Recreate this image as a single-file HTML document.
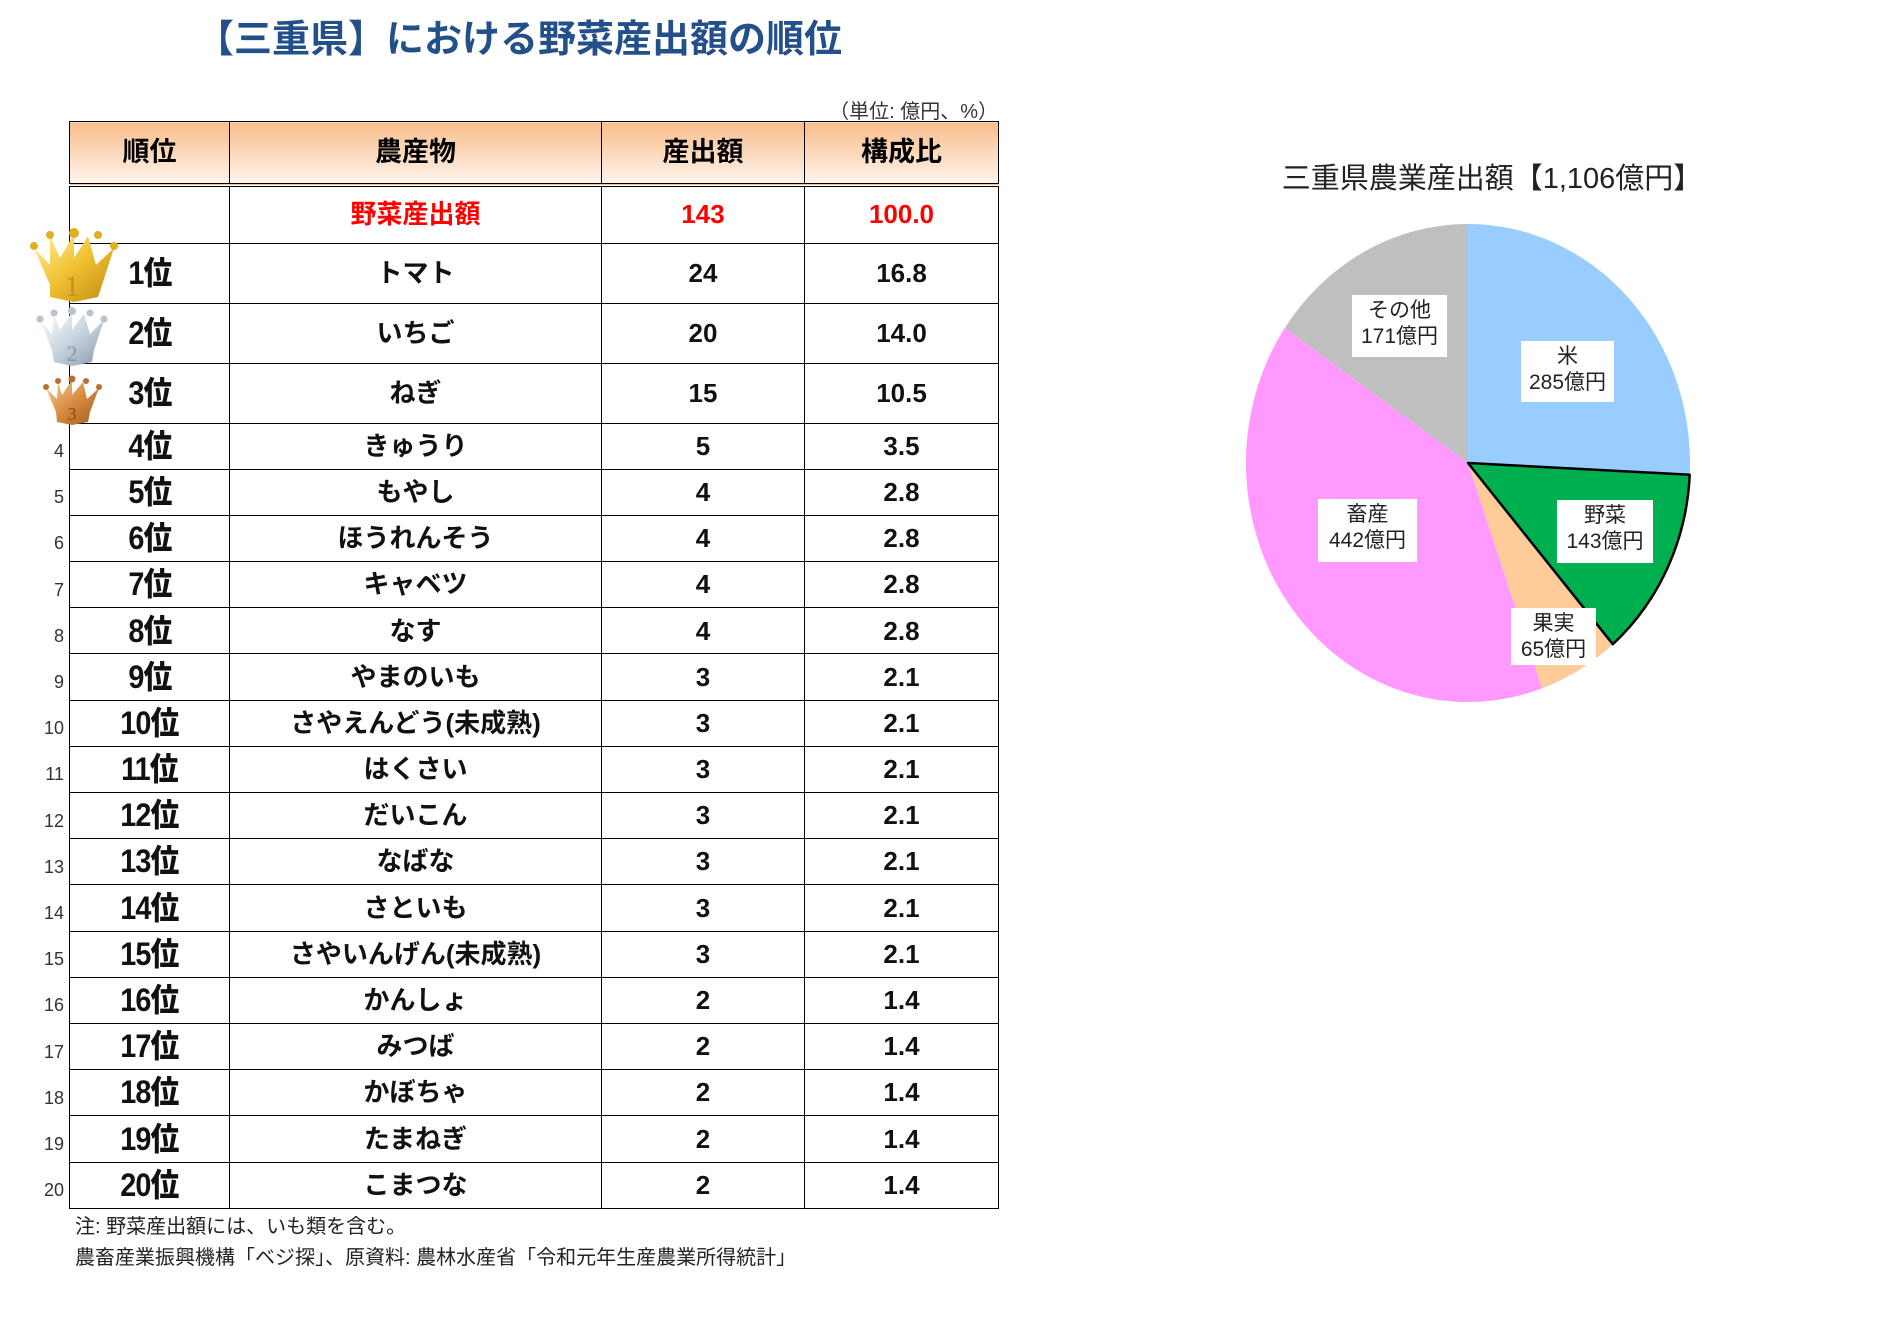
<!DOCTYPE html>
<html><head><meta charset="utf-8">
<style>
body{margin:0;background:#fff;width:1880px;height:1325px;position:relative;overflow:hidden;font-family:"Liberation Sans","Noto Sans CJK JP",sans-serif;}
.a{position:absolute;}
.title{left:196px;top:8px;font-size:38px;font-weight:bold;color:#23508a;letter-spacing:0px;white-space:nowrap;}
.unit{right:882px;top:95px;font-size:20px;color:#333;white-space:nowrap;}
table{position:absolute;left:69px;top:121px;border-collapse:collapse;}
td{border:1.5px solid #000;text-align:center;padding:0;font-weight:bold;font-size:26px;color:#111;line-height:1.1;}
th{border:1.5px solid #000;border-bottom:4px double #000;background:linear-gradient(#f9bd8c,#fde4cf 70%,#fff5ee);font-size:27px;font-weight:bold;height:59px;line-height:1.1;}
.rk{font-size:32px;font-weight:900;transform:scaleX(0.9);display:inline-block;letter-spacing:-1px;line-height:1;}
.r{height:46.2px;}
.num{left:30px;width:34px;text-align:right;font-size:18px;color:#333;}
.note{left:75px;font-size:20px;color:#222;white-space:nowrap;}
.lb{position:absolute;background:#fff;text-align:center;font-size:21px;line-height:26px;color:#222;padding-top:3px;}
</style></head><body>
<div class="a title">【三重県】における野菜産出額の順位</div>
<div class="a unit">（単位: 億円、%）</div>
<table>
<colgroup><col style="width:160px"><col style="width:372px"><col style="width:203px"><col style="width:194px"></colgroup>
<tr><th>順位</th><th>農産物</th><th>産出額</th><th>構成比</th></tr>
<tr style="height:58px"><td></td><td style="color:#f00">野菜産出額</td><td style="color:#f00">143</td><td style="color:#f00">100.0</td></tr>
<tr style="height:60px"><td><span class="rk">1位</span></td><td>トマト</td><td>24</td><td>16.8</td></tr>
<tr style="height:60px"><td><span class="rk">2位</span></td><td>いちご</td><td>20</td><td>14.0</td></tr>
<tr style="height:60px"><td><span class="rk">3位</span></td><td>ねぎ</td><td>15</td><td>10.5</td></tr>
<tr class="r"><td><span class="rk">4位</span></td><td>きゅうり</td><td>5</td><td>3.5</td></tr>
<tr class="r"><td><span class="rk">5位</span></td><td>もやし</td><td>4</td><td>2.8</td></tr>
<tr class="r"><td><span class="rk">6位</span></td><td>ほうれんそう</td><td>4</td><td>2.8</td></tr>
<tr class="r"><td><span class="rk">7位</span></td><td>キャベツ</td><td>4</td><td>2.8</td></tr>
<tr class="r"><td><span class="rk">8位</span></td><td>なす</td><td>4</td><td>2.8</td></tr>
<tr class="r"><td><span class="rk">9位</span></td><td>やまのいも</td><td>3</td><td>2.1</td></tr>
<tr class="r"><td><span class="rk">10位</span></td><td>さやえんどう(未成熟)</td><td>3</td><td>2.1</td></tr>
<tr class="r"><td><span class="rk">11位</span></td><td>はくさい</td><td>3</td><td>2.1</td></tr>
<tr class="r"><td><span class="rk">12位</span></td><td>だいこん</td><td>3</td><td>2.1</td></tr>
<tr class="r"><td><span class="rk">13位</span></td><td>なばな</td><td>3</td><td>2.1</td></tr>
<tr class="r"><td><span class="rk">14位</span></td><td>さといも</td><td>3</td><td>2.1</td></tr>
<tr class="r"><td><span class="rk">15位</span></td><td>さやいんげん(未成熟)</td><td>3</td><td>2.1</td></tr>
<tr class="r"><td><span class="rk">16位</span></td><td>かんしょ</td><td>2</td><td>1.4</td></tr>
<tr class="r"><td><span class="rk">17位</span></td><td>みつば</td><td>2</td><td>1.4</td></tr>
<tr class="r"><td><span class="rk">18位</span></td><td>かぼちゃ</td><td>2</td><td>1.4</td></tr>
<tr class="r"><td><span class="rk">19位</span></td><td>たまねぎ</td><td>2</td><td>1.4</td></tr>
<tr class="r"><td><span class="rk">20位</span></td><td>こまつな</td><td>2</td><td>1.4</td></tr>
</table>
<svg class="a" style="left:0;top:0" width="240" height="440">
<defs>
<linearGradient id="g1" x1="0" y1="0" x2="1" y2="1"><stop offset="0" stop-color="#fff2a0"/><stop offset="0.5" stop-color="#f0c030"/><stop offset="1" stop-color="#c08a10"/></linearGradient>
<linearGradient id="g2" x1="0" y1="0" x2="1" y2="1"><stop offset="0" stop-color="#ffffff"/><stop offset="0.5" stop-color="#c8d4e0"/><stop offset="1" stop-color="#8898aa"/></linearGradient>
<linearGradient id="g3" x1="0" y1="0" x2="1" y2="1"><stop offset="0" stop-color="#f8d0a0"/><stop offset="0.5" stop-color="#d88c40"/><stop offset="1" stop-color="#a05a20"/></linearGradient>
</defs>
<g><polygon points="34,248 50,285 50,297 74,302 98,297 102,285 114,248 96,265 88,236 74,258 74,234 60,258 50,236 50,265" fill="url(#g1)"/>
<circle cx="34" cy="246" r="4" fill="#e0b020"/><circle cx="50" cy="235" r="4" fill="#e0b020"/><circle cx="74" cy="233" r="5" fill="#e0b020"/><circle cx="98" cy="235" r="4" fill="#e0b020"/><circle cx="114" cy="246" r="4" fill="#e0b020"/>
<text x="72" y="296" font-size="30" font-family="Liberation Serif,serif" fill="#c89020" text-anchor="middle">1</text></g>
<g><polygon points="40,320 52,350 54,362 72,366 92,362 94,350 104,320 90,334 84,314 72,330 72,312 60,330 54,314 52,334" fill="url(#g2)"/>
<circle cx="40" cy="319" r="3.5" fill="#b8c4d0"/><circle cx="54" cy="313" r="3.5" fill="#b8c4d0"/><circle cx="72" cy="311" r="4" fill="#b8c4d0"/><circle cx="90" cy="313" r="3.5" fill="#b8c4d0"/><circle cx="104" cy="319" r="3.5" fill="#b8c4d0"/>
<text x="72" y="361" font-size="22" font-family="Liberation Serif,serif" fill="#8898a8" text-anchor="middle">2</text></g>
<g><polygon points="46,388 56,412 57,422 72,425 88,422 90,412 99,388 87,399 83,382 72,395 72,380 62,395 58,382 57,399" fill="url(#g3)"/>
<circle cx="46" cy="387" r="3" fill="#b87030"/><circle cx="58" cy="381" r="3" fill="#b87030"/><circle cx="72" cy="379" r="3.5" fill="#b87030"/><circle cx="86" cy="381" r="3" fill="#b87030"/><circle cx="99" cy="387" r="3" fill="#b87030"/>
<text x="72" y="420" font-size="18" font-family="Liberation Serif,serif" fill="#904810" text-anchor="middle">3</text></g>
</svg>
<div class="a num" style="top:441px">4</div>
<div class="a num" style="top:487px">5</div>
<div class="a num" style="top:533px">6</div>
<div class="a num" style="top:580px">7</div>
<div class="a num" style="top:626px">8</div>
<div class="a num" style="top:672px">9</div>
<div class="a num" style="top:718px">10</div>
<div class="a num" style="top:764px">11</div>
<div class="a num" style="top:811px">12</div>
<div class="a num" style="top:857px">13</div>
<div class="a num" style="top:903px">14</div>
<div class="a num" style="top:949px">15</div>
<div class="a num" style="top:995px">16</div>
<div class="a num" style="top:1042px">17</div>
<div class="a num" style="top:1088px">18</div>
<div class="a num" style="top:1134px">19</div>
<div class="a num" style="top:1180px">20</div>
<div class="a note" style="top:1210px">注: 野菜産出額には、いも類を含む。</div>
<div class="a note" style="top:1241px">農畜産業振興機構「ベジ探」、原資料: 農林水産省「令和元年生産農業所得統計」</div>

<div class="a" style="left:1272px;top:155px;width:440px;text-align:center;font-size:29px;color:#222;white-space:nowrap;">三重県農業産出額【1,106億円】</div>
<svg class="a" style="left:0;top:0" width="1880" height="1325">
<g transform="translate(-7,0)">
<path d="M1475,463 L1475,224 A222,239 0 0 1 1696.7,474.7 Z" fill="#99ccff"/>
<path d="M1475,463 L1549.1,688.3 A222,239 0 0 1 1291.8,328 Z" fill="#ff99ff"/>
<path d="M1475,463 L1291.8,328 A222,239 0 0 1 1475,224 Z" fill="#bfbfbf"/>
<path d="M1475,463 L1619.8,644.2 A222,239 0 0 1 1549.1,688.3 Z" fill="#ffcc99"/>
<path d="M1475,463 L1696.7,474.7 A222,239 0 0 1 1619.8,644.2 Z" fill="#00b050" stroke="#000" stroke-width="2.5" stroke-linejoin="round"/>
</g>
</svg>
<div class="lb" style="left:1352px;top:295px;width:95px;height:59px;">その他<br>171億円</div>
<div class="lb" style="left:1521px;top:341px;width:93px;height:58px;">米<br>285億円</div>
<div class="lb" style="left:1557px;top:500px;width:96px;height:60px;">野菜<br>143億円</div>
<div class="lb" style="left:1511px;top:608px;width:85px;height:54px;">果実<br>65億円</div>
<div class="lb" style="left:1318px;top:499px;width:99px;height:60px;">畜産<br>442億円</div>
</body></html>
